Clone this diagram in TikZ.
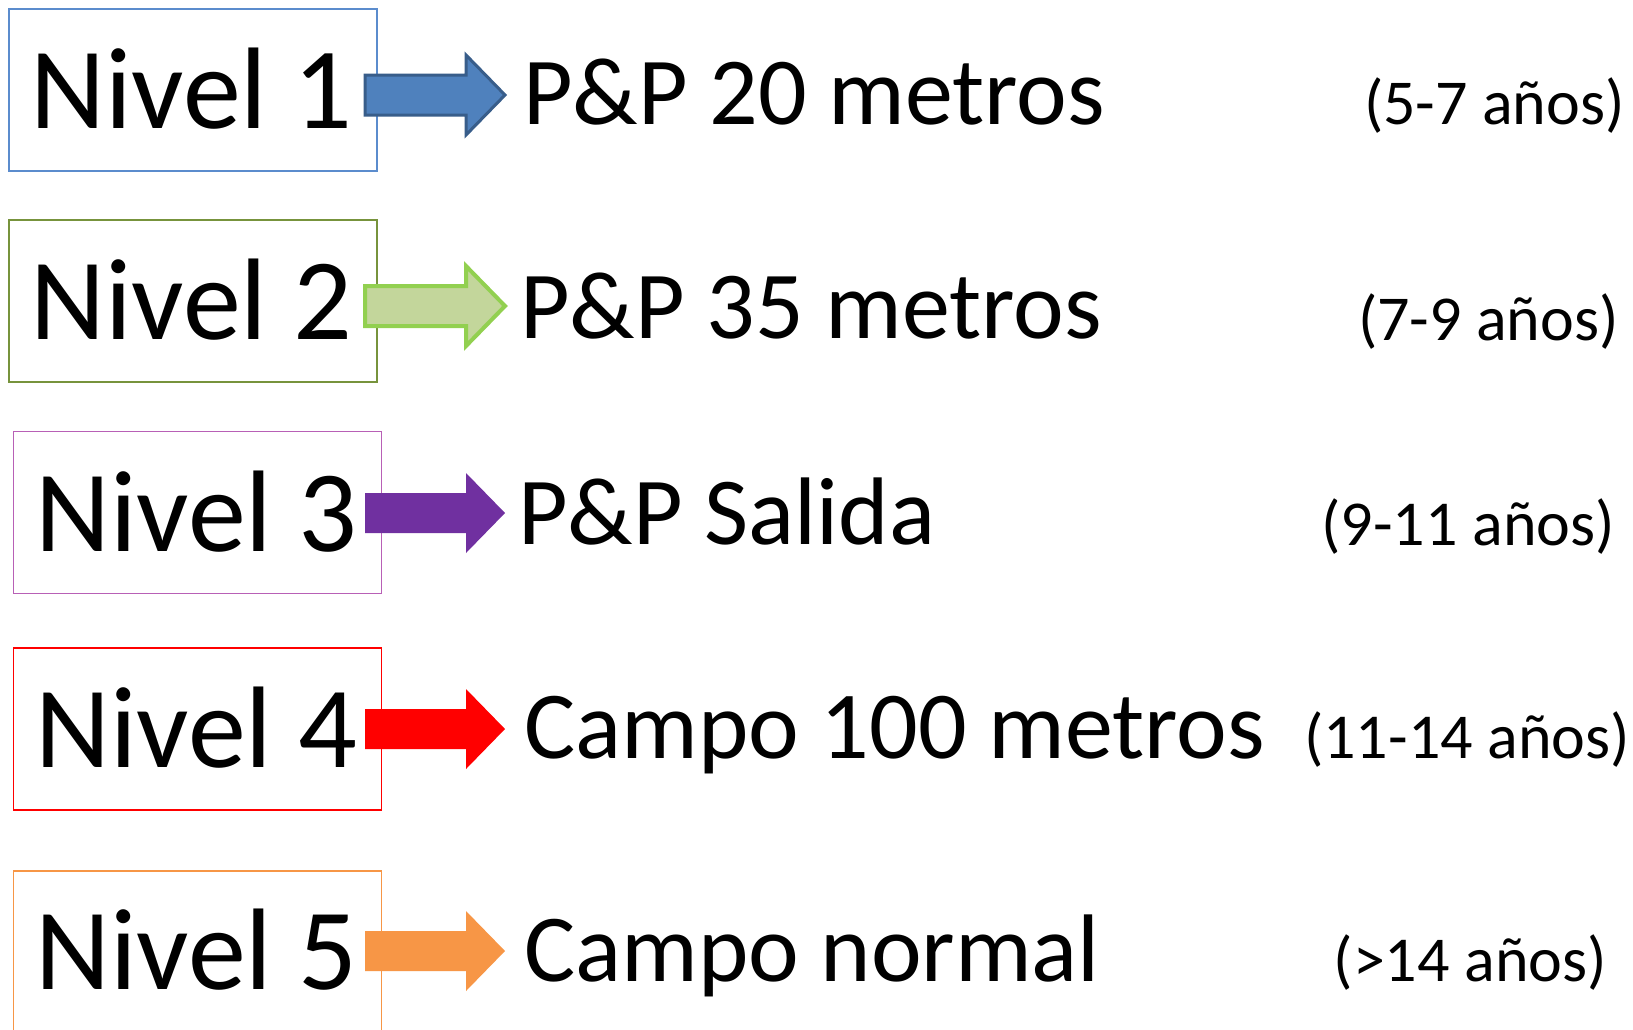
\documentclass[tikz,border=0pt]{standalone}
\usepackage{fontspec}
\setmainfont{Carlito}
\definecolor{b1}{RGB}{79,129,189}
\definecolor{b1d}{RGB}{56,93,138}
\definecolor{b1box}{RGB}{91,140,205}
\definecolor{g2box}{RGB}{119,147,60}
\definecolor{g2fill}{RGB}{195,214,155}
\definecolor{g2line}{RGB}{146,208,80}
\definecolor{p3box}{RGB}{184,96,182}
\definecolor{p3}{RGB}{112,48,160}
\definecolor{o5}{RGB}{247,150,70}
\newcommand{\blockarr}[2]{%
  \path[#1] (365,#2-20) -- (466,#2-20) -- (466,#2-40) -- (505,#2) -- (466,#2+40) -- (466,#2+20) -- (365,#2+20) -- cycle;}
\begin{document}
\begin{tikzpicture}[x=1pt,y=-1pt,
  levelbox/.style={draw, line width=1.5pt, minimum width=368pt, minimum height=162pt, inner sep=0pt},
  niveltext/.style={anchor=base west, inner sep=0pt, font=\fontsize{116}{120}\selectfont},
  labeltext/.style={anchor=base west, inner sep=0pt, font=\fontsize{96}{100}\selectfont},
  agetext/.style={anchor=base east, inner sep=0pt, font=\fontsize{64}{70}\selectfont}]
\useasboundingbox (0,0) rectangle (1633,1029);
\clip (0,0) rectangle (1633,1029);
\fill[white] (0,0) rectangle (1633,1029);
% boxes
\node[levelbox, draw=b1box] (box1) at (193,90) {};
\node[levelbox, draw=g2box] (box2) at (193,301) {};
\node[levelbox, draw=p3box] (box3) at (197.5,512.5) {};
\node[levelbox, draw=red] (box4) at (197.5,729) {};
\node[levelbox, draw=o5] (box5) at (197.5,952) {};
% level texts
\node[niveltext] (n1) at (30,128) {Nivel 1};
\node[niveltext] (n2) at (30,339) {Nivel 2};
\node[niveltext] (n3) at (35,551) {Nivel 3};
\node[niveltext] (n4) at (35,767) {Nivel 4};
\node[niveltext] (n5) at (35,989) {Nivel 5};
% arrows
\blockarr{fill=b1, draw=b1d, line width=3pt}{95}
\blockarr{fill=g2fill, draw=g2line, line width=4pt}{306}
\blockarr{fill=p3}{513}
\blockarr{fill=red}{729}
\blockarr{fill=o5}{951}
% labels
\node[labeltext] (l1) at (523,124) {P\&P 20 metros};
\node[labeltext] (l2) at (520,338) {P\&P 35 metros};
\node[labeltext] (l3) at (518,544) {P\&P Salida};
\node[labeltext] (l4) at (524,758) {Campo 100 metros};
\node[labeltext] (l5) at (524,981) {Campo normal};
% ages
\node[agetext] (a1) at (1625,124) {(5-7 años)};
\node[agetext] (a2) at (1619,340) {(7-9 años)};
\node[agetext] (a3) at (1615,545) {(9-11 años)};
\node[agetext] (a4) at (1630,758) {(11-14 años)};
\node[agetext] (a5) at (1607,981) {(>14 años)};
\end{tikzpicture}
\end{document}
